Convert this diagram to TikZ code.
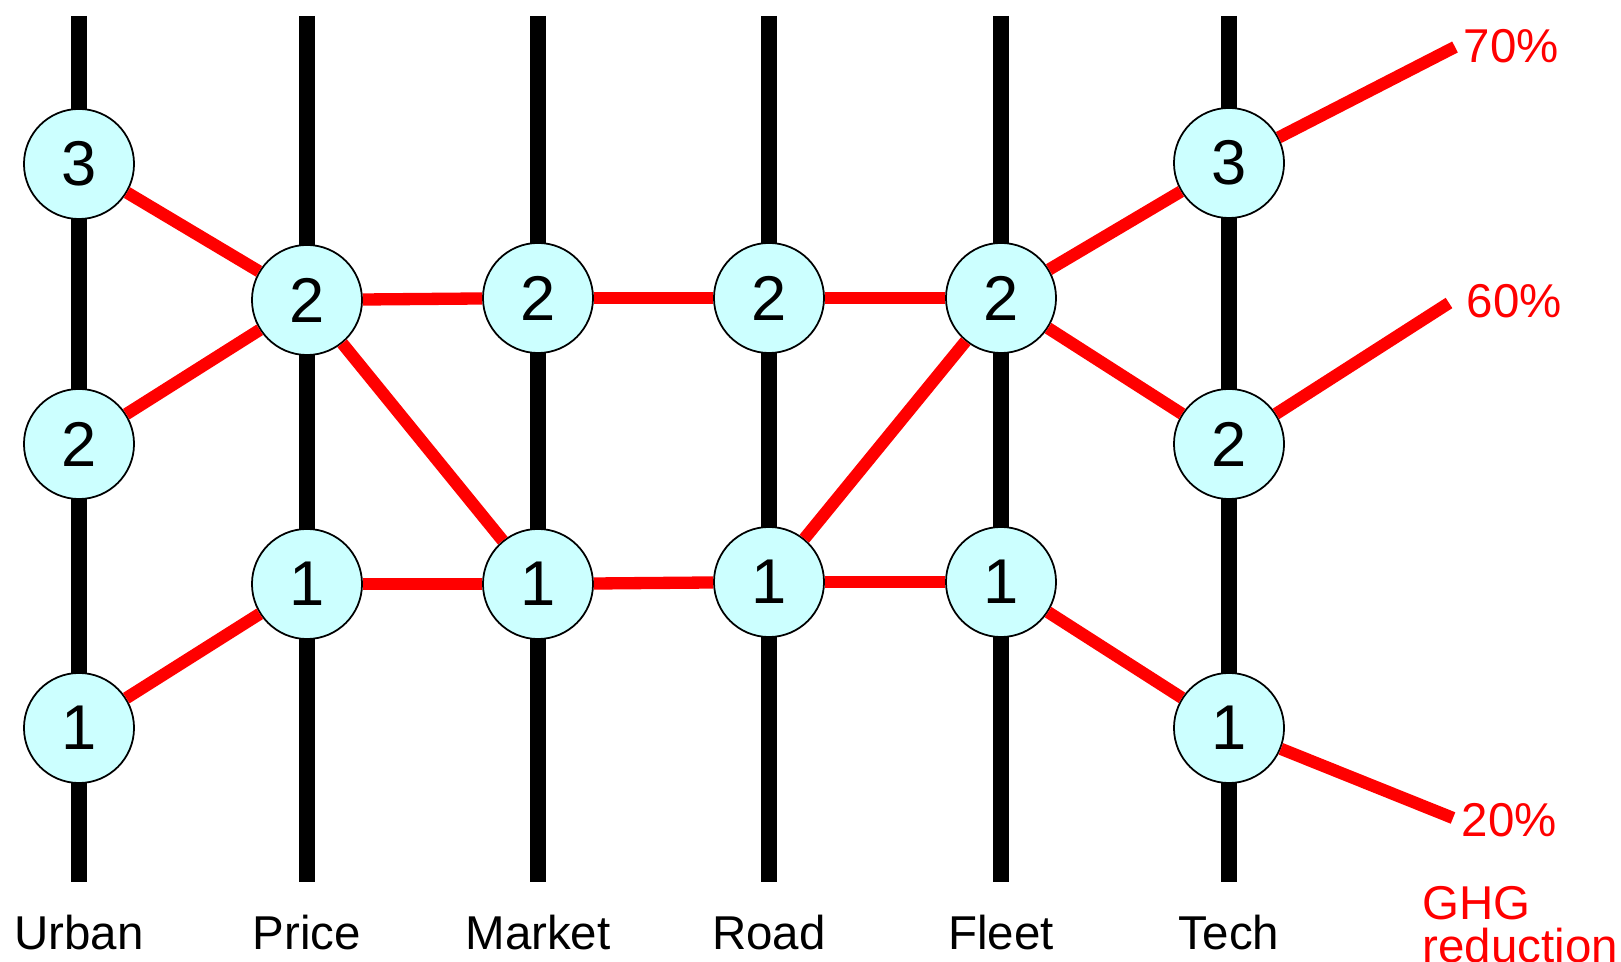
\documentclass[tikz,border=0pt]{standalone}
\usepackage{fontspec}
\setmainfont{Liberation Sans}
\definecolor{nodecyan}{HTML}{CCFFFF}
\begin{document}
\begin{tikzpicture}[x=0.01cm,y=-0.01cm,
	level/.style={circle, draw=black, line width=0.5pt, fill=nodecyan, minimum size=1.1cm, inner sep=0pt, font=\fontsize{18}{20}\selectfont},
	pillar/.style={line width=4.6pt, black},
	route/.style={line width=3.5pt, red},
	lbl/.style={font=\fontsize{13.5}{15}\selectfont, anchor=base},
	pct/.style={font=\fontsize{13.5}{15}\selectfont, text=red, anchor=west, inner sep=0pt}]
	\useasboundingbox (0,0) rectangle (1621,962);

	% sector axes and their names
	\foreach \x/\name in {79/Urban, 307/Price, 538/Market, 769/Road, 1001/Fleet, 1229/Tech}{
		\draw[pillar] (\x,16) -- (\x,882);
		\node[lbl] (\name) at (\x,950) {\name};
	}

	% policy levels
	\node[level] (u3) at (79,164)   {3};
	\node[level] (u2) at (79,444)   {2};
	\node[level] (u1) at (79,728)   {1};
	\node[level] (p2) at (307,300)  {2};
	\node[level] (p1) at (307,584)  {1};
	\node[level] (m2) at (538,298)  {2};
	\node[level] (m1) at (538,584)  {1};
	\node[level] (r2) at (769,298)  {2};
	\node[level] (r1) at (769,582)  {1};
	\node[level] (f2) at (1001,298) {2};
	\node[level] (f1) at (1001,582) {1};
	\node[level] (t3) at (1229,163) {3};
	\node[level] (t2) at (1229,444) {2};
	\node[level] (t1) at (1229,728) {1};

	% reduction targets
	\coordinate (g70) at (1455,47);
	\coordinate (g60) at (1449,303);
	\coordinate (g20) at (1453,818);
	\node[pct] (l70) at (1463,46)  {70\%};
	\node[pct] (l60) at (1466,301) {60\%};
	\node[pct] (l20) at (1461,820) {20\%};
	\node[font=\fontsize{13.5}{12}\selectfont, text=red, align=left, anchor=north west, inner sep=0pt] (ghg) at (1422,886) {GHG\\reduction};

	% pathways
	\draw[route] (u3) -- (p2);
	\draw[route] (u2) -- (p2);
	\draw[route] (u1) -- (p1);
	\draw[route] (p2) -- (m2);
	\draw[route] (p2) -- (m1);
	\draw[route] (p1) -- (m1);
	\draw[route] (m2) -- (r2);
	\draw[route] (m1) -- (r1);
	\draw[route] (r2) -- (f2);
	\draw[route] (r1) -- (f2);
	\draw[route] (r1) -- (f1);
	\draw[route] (f2) -- (t3);
	\draw[route] (f2) -- (t2);
	\draw[route] (f1) -- (t1);
	\draw[route] (t3) -- (g70);
	\draw[route] (t2) -- (g60);
	\draw[route] (t1) -- (g20);
\end{tikzpicture}
\end{document}
